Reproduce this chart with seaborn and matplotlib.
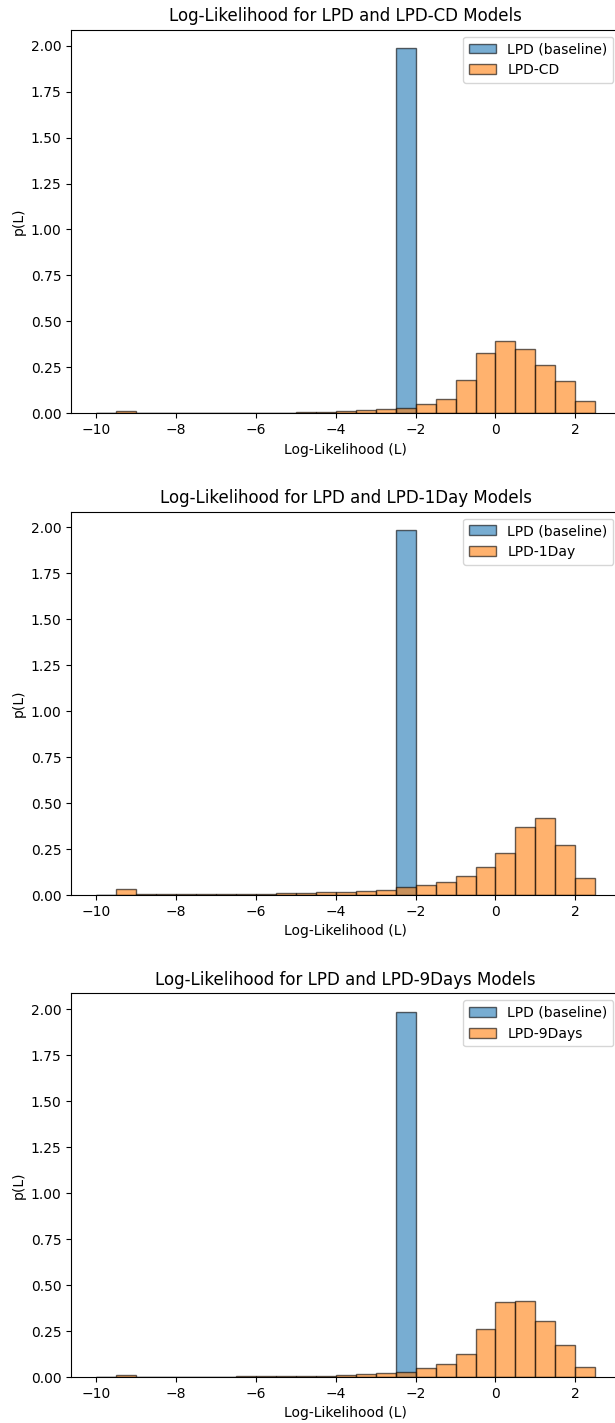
import numpy as np
import pandas as pd
import matplotlib
matplotlib.use("Agg")
import matplotlib.pyplot as plt
import seaborn as sns

# Bin edges (width 0.5) from -10 to 2.5
bin_edges = [-10.0, -9.5, -9.0, -8.5, -8.0, -7.5, -7.0, -6.5, -6.0, -5.5, -5.0,
             -4.5, -4.0, -3.5, -3.0, -2.5, -2.0, -1.5, -1.0, -0.5, 0.0,
             0.5, 1.0, 1.5, 2.0, 2.5]

# Density values per bin (25 bins)
lpd_baseline = [0, 0, 0, 0, 0, 0, 0, 0, 0, 0, 0,
                0, 0, 0, 0, 1.987, 0, 0, 0, 0,
                0, 0, 0, 0, 0]

lpd_cd = [0, 0.012, 0.001, 0.001, 0.001, 0.0015, 0.002, 0.002, 0.003, 0.004, 0.006,
          0.008, 0.013, 0.016, 0.022, 0.029, 0.049, 0.078, 0.18, 0.329,
          0.392, 0.349, 0.261, 0.178, 0.067]

lpd_1day = [0, 0.033, 0.004, 0.004, 0.004, 0.005, 0.005, 0.006, 0.009, 0.011, 0.013,
            0.015, 0.02, 0.024, 0.031, 0.042, 0.053, 0.074, 0.105, 0.154,
            0.232, 0.37, 0.418, 0.274, 0.093]

lpd_9days = [0, 0.013, 0.002, 0.002, 0.002, 0.002, 0.002, 0.003, 0.003, 0.004, 0.005,
             0.007, 0.011, 0.015, 0.022, 0.029, 0.049, 0.073, 0.127, 0.263,
             0.41, 0.412, 0.303, 0.176, 0.053]

model_names = ["LPD-CD", "LPD-1Day", "LPD-9Days"]
model_values = [lpd_cd, lpd_1day, lpd_9days]

edges = np.array(bin_edges)
centers = (edges[:-1] + edges[1:]) / 2

fig, axes = plt.subplots(3, 1, figsize=(6.15, 14.23), dpi=100)
fig.subplots_adjust(left=0.1159, right=1.0085, top=0.9791, bottom=0.0323, hspace=0.256)

edge_rgba = (0, 0, 0, 0.6)
for ax, name, vals in zip(axes, model_names, model_values):
    df_base = pd.DataFrame({"L": centers, "w": lpd_baseline})
    df_model = pd.DataFrame({"L": centers, "w": vals})
    sns.histplot(data=df_base, x="L", weights="w", bins=list(bin_edges), stat="count",
                 color="#1f77b4", alpha=0.6, edgecolor=edge_rgba, linewidth=1,
                 label="LPD (baseline)", ax=ax)
    sns.histplot(data=df_model, x="L", weights="w", bins=list(bin_edges), stat="count",
                 color="#ff7f0e", alpha=0.6, edgecolor=edge_rgba, linewidth=1,
                 label=name, ax=ax)
    ax.set_title(f"Log-Likelihood for LPD and {name} Models", fontsize=12)
    ax.set_xlabel("Log-Likelihood (L)")
    ax.set_ylabel("p(L)")
    ax.set_yticks(np.arange(0, 2.01, 0.25))
    ax.legend(loc="upper right")

fig.savefig("out.png", dpi=100)
